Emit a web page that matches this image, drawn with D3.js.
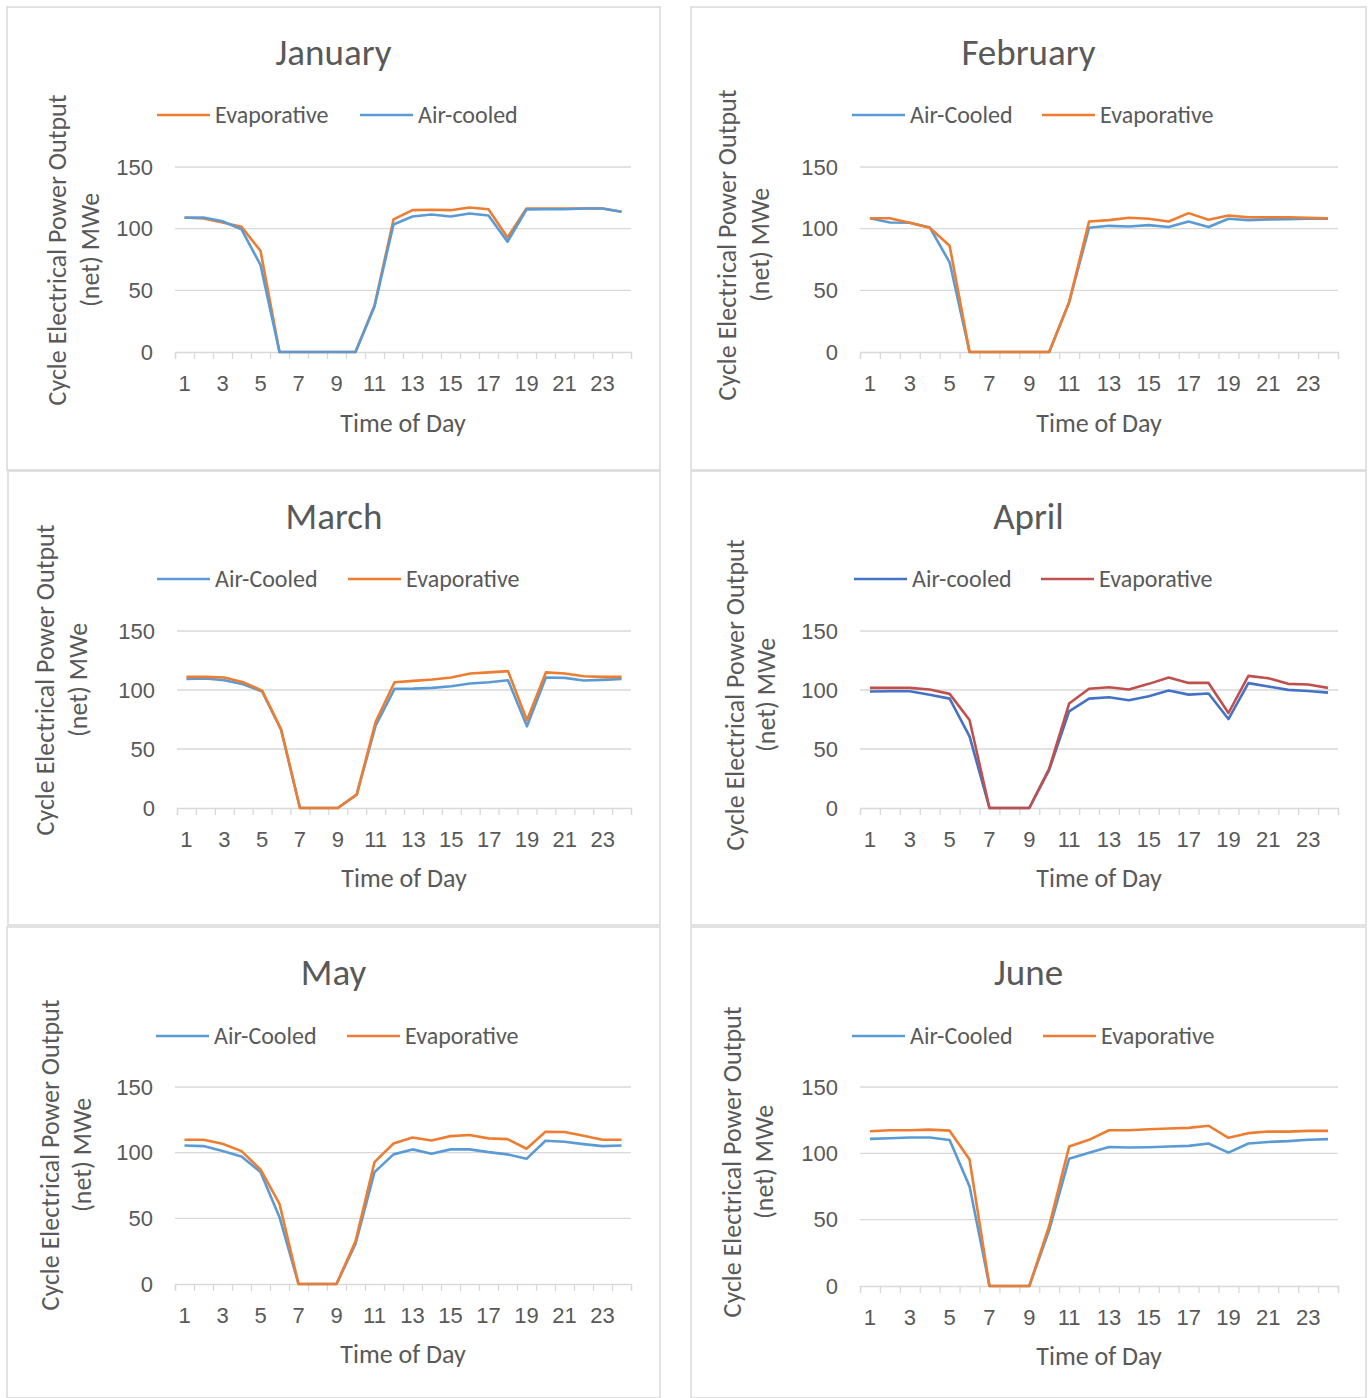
<!DOCTYPE html>
<html lang="en">
<head>
<meta charset="UTF-8">
<title>Cycle Electrical Power Output by Month</title>
<script src="https://d3js.org/d3.v7.min.js"></script>
<style>
    body { margin: 0; background: #fff; }
    svg { display: block; font-family: Carlito, Lato, sans-serif; }
    .box { fill: #fff; stroke: #d9d9d9; stroke-width: 1.5px; }
    .grid line { stroke: #d9d9d9; stroke-width: 1.3px; }
    .axis text { fill: #595959; font-size: 22px; }
    .axis path, .axis line { stroke: #d9d9d9; stroke-width: 1.3px; }
    .title { fill: #595959; font-size: 37px; text-anchor: middle; }
    .label { fill: #595959; font-size: 26px; text-anchor: middle; }
    .legend text { fill: #595959; font-size: 24px; }
    .series { fill: none; stroke-width: 2.6px; stroke-linejoin: round; }
</style>
</head>
<body>
<script>
// hours of day (categories)
const hours = d3.range(1, 25);
const hourLabels = hours.filter(h => h % 2 === 1);
const yTicks = [0, 50, 100, 150];

// values, MWe
const janEvap = [109, 108.3, 105, 101.5, 82.1, 0, 0, 0, 0, 0, 37.7, 107.5, 115, 115.3, 115, 117.2, 115.8, 92.9, 116.3, 116.3, 116.3, 116.3, 116.3, 113.7];
const janAir  = [108.8, 109, 106, 99.4, 70.6, 0, 0, 0, 0, 0, 36.9, 103.4, 109.9, 111.5, 109.9, 112.3, 110.7, 89.4, 115.5, 115.8, 115.8, 116.3, 116.3, 113.7];

const febAir  = [108.5, 105, 104.8, 101, 72.7, 0, 0, 0, 0, 0, 40.4, 100.7, 102.3, 101.8, 102.9, 101.3, 105.8, 101.3, 108, 106.9, 107.5, 107.7, 108, 108];
const febEvap = [108.5, 108.5, 104.8, 100.7, 86.2, 0, 0, 0, 0, 0, 40.4, 105.8, 106.9, 108.8, 108, 105.8, 112.6, 107.2, 110.7, 109.3, 109.3, 109.3, 108.8, 108.5];

const marAir  = [109.4, 109.7, 108.3, 104.9, 98.7, 66.3, 0, 0, 0, 11.3, 69.7, 101, 101.2, 101.8, 103.2, 105.5, 106.6, 108.3, 69.2, 110.6, 110.3, 108, 108.6, 109.4];
const marEvap = [111.1, 111.1, 110.6, 106.6, 99.5, 66.9, 0, 0, 0, 11.3, 73.1, 106.6, 107.7, 108.9, 110.6, 114, 114.9, 116, 74.3, 114.9, 114, 111.7, 111.1, 111.1];

const aprAir  = [98.7, 99, 99, 95.9, 92.7, 60.7, 0, 0, 0, 32.3, 81.9, 92.7, 93.9, 91.3, 94.7, 99.5, 96.1, 97, 75.4, 105.8, 103, 100.1, 99.2, 97.8];
const aprEvap = [101.8, 101.8, 101.8, 100.4, 96.7, 74.6, 0, 0, 0, 33.5, 88.5, 101, 102.3, 100.4, 105.2, 110.6, 106, 106, 80.5, 112, 110, 105.2, 104.6, 101.8];

const mayAir  = [105.5, 105, 101.2, 97.1, 85.2, 50.9, 0, 0, 0, 30.5, 85.2, 98.7, 102.5, 99.2, 102.5, 102.5, 100.4, 98.7, 95.3, 109.1, 108.3, 106.5, 105, 105.5];
const mayEvap = [109.8, 109.8, 106.8, 101.2, 87.2, 61, 0, 0, 0, 32.5, 92.8, 107, 111.6, 109.3, 112.6, 113.4, 110.9, 110.3, 103, 115.9, 115.7, 112.9, 109.8, 109.8];

const junAir  = [110.9, 111.4, 111.9, 111.9, 110.1, 75.1, 0, 0, 0, 42.1, 96, 100.5, 104.8, 104.4, 104.6, 105.1, 105.6, 107.4, 100.5, 107.4, 108.6, 109.2, 110.2, 110.7];
const junEvap = [116.6, 117.4, 117.4, 117.9, 117.1, 95.3, 0, 0, 0, 45.4, 105.1, 110.2, 117.4, 117.4, 118.2, 118.7, 119.2, 120.8, 111.7, 115.2, 116.4, 116.4, 116.9, 116.9];

const orange = "#ED7D31", blue = "#5B9BD5", darkBlue = "#4472C4", red = "#C0504D";

const width = 1371, height = 1398;
const svg = d3.select("body").append("svg")
    .attr("width", width)
    .attr("height", height);

// one chart per month
const panels = [
    {title: "January", box: [7, 7, 653, 463], x: [175, 631], y: [352, 167], titleY: 52, legendY: 115,
     ylab: [57, 90, 250], xlabY: 423,
     series: [{name: "Evaporative", values: janEvap, color: orange, lx: 157},
              {name: "Air-cooled", values: janAir, color: blue, lx: 360}]},
    {title: "February", box: [691, 7, 675, 463], x: [860, 1338], y: [352, 167], titleY: 52, legendY: 115,
     ylab: [727, 760, 245], xlabY: 423,
     series: [{name: "Air-Cooled", values: febAir, color: blue, lx: 852},
              {name: "Evaporative", values: febEvap, color: orange, lx: 1042}]},
    {title: "March", box: [8, 471, 652, 454], x: [177, 631], y: [808, 631], titleY: 516, legendY: 579,
     ylab: [45, 78, 680], xlabY: 878,
     series: [{name: "Air-Cooled", values: marAir, color: blue, lx: 157},
              {name: "Evaporative", values: marEvap, color: orange, lx: 348}]},
    {title: "April", box: [691, 471, 675, 454], x: [860, 1338], y: [808, 631], titleY: 516, legendY: 579,
     ylab: [735, 766, 695], xlabY: 878,
     series: [{name: "Air-cooled", values: aprAir, color: darkBlue, lx: 854},
              {name: "Evaporative", values: aprEvap, color: red, lx: 1041}]},
    {title: "May", box: [7, 927, 653, 471], x: [175, 631], y: [1284, 1087], titleY: 972, legendY: 1036,
     ylab: [50, 82, 1155], xlabY: 1354,
     series: [{name: "Air-Cooled", values: mayAir, color: blue, lx: 156},
              {name: "Evaporative", values: mayEvap, color: orange, lx: 347}]},
    {title: "June", box: [691, 927, 675, 471], x: [860, 1338], y: [1286, 1087], titleY: 972, legendY: 1036,
     ylab: [732, 764, 1162], xlabY: 1356,
     series: [{name: "Air-Cooled", values: junAir, color: blue, lx: 852},
              {name: "Evaporative", values: junEvap, color: orange, lx: 1043}]}
];

panels.forEach(p => {
    const g = svg.append("g");
    g.append("rect").attr("class", "box")
        .attr("x", p.box[0]).attr("y", p.box[1])
        .attr("width", p.box[2]).attr("height", p.box[3]);

    const xScale = d3.scaleBand().domain(hours).range(p.x);
    const yScale = d3.scaleLinear().domain([0, 150]).range(p.y);

    // gridlines
    g.append("g").attr("class", "grid")
        .selectAll("line")
        .data(yTicks.filter(v => v > 0))
        .enter().append("line")
        .attr("x1", p.x[0]).attr("x2", p.x[1])
        .attr("y1", d => yScale(d)).attr("y2", d => yScale(d));

    // y axis labels only
    const yAxis = g.append("g").attr("class", "axis")
        .attr("transform", `translate(${p.x[0] - 12},0)`)
        .call(d3.axisLeft(yScale).tickValues(yTicks).tickSize(0).tickPadding(10));
    yAxis.select(".domain").remove();

    // x axis: ticks at category edges, labels on odd hours
    const edge = d3.scaleLinear().domain([0, 24]).range(p.x);
    g.append("g").attr("class", "axis")
        .attr("transform", `translate(0,${yScale(0)})`)
        .call(d3.axisBottom(edge).ticks(24).tickSizeInner(7).tickSizeOuter(7).tickFormat(""));
    const xAxis = g.append("g").attr("class", "axis")
        .attr("transform", `translate(0,${yScale(0)})`)
        .call(d3.axisBottom(xScale).tickValues(hourLabels).tickSize(0).tickPadding(23));
    xAxis.select(".domain").remove();

    // series lines
    const line = d3.line()
        .x((d, i) => xScale(hours[i]) + xScale.bandwidth() / 2)
        .y(d => yScale(d));
    p.series.forEach(s => {
        g.append("path").attr("class", "series")
            .attr("stroke", s.color)
            .attr("d", line(s.values));
    });

    // titles
    g.append("text").attr("class", "title")
        .attr("x", p.box[0] + p.box[2] / 2)
        .attr("y", p.titleY).attr("dy", "0.35em")
        .text(p.title);
    g.append("text").attr("class", "label")
        .attr("x", (p.x[0] + p.x[1]) / 2)
        .attr("y", p.xlabY).attr("dy", "0.35em")
        .text("Time of Day");
    const yl = g.append("text").attr("class", "label")
        .attr("transform", `translate(${p.ylab[0]},${p.ylab[2]}) rotate(-90)`);
    yl.append("tspan").attr("x", 0).attr("dy", "0.35em").text("Cycle Electrical Power Output");
    yl.append("tspan").attr("x", 0).attr("dy", (p.ylab[1] - p.ylab[0]) + "px").text("(net) MWe");

    // legend
    const leg = g.append("g").attr("class", "legend")
        .selectAll("g").data(p.series).enter().append("g")
        .attr("transform", d => `translate(${d.lx},${p.legendY})`);
    leg.append("line").attr("x1", 0).attr("x2", 53)
        .attr("stroke", d => d.color).attr("stroke-width", 2.6);
    leg.append("text").attr("x", 58).attr("dy", "0.35em").text(d => d.name);
});
</script>
</body>
</html>
